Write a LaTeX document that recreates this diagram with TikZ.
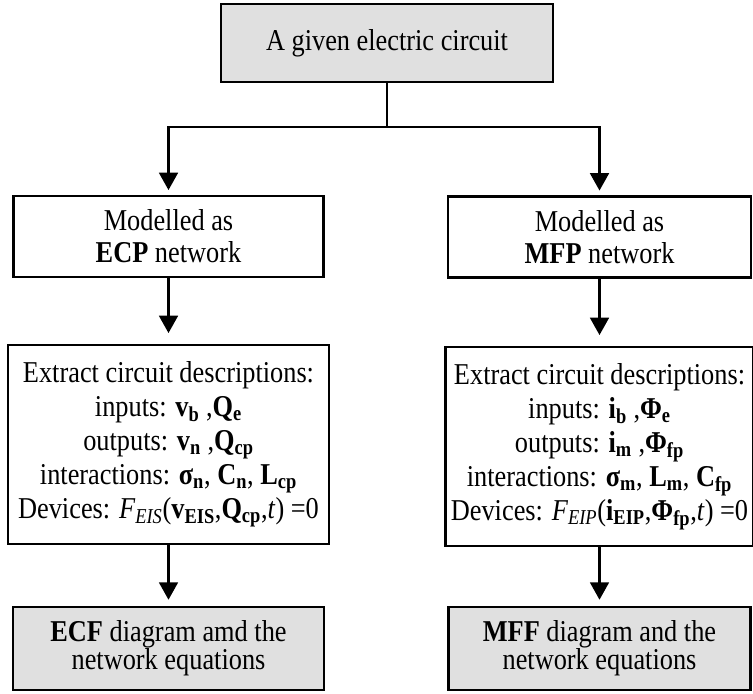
\documentclass[tikz,border=0pt]{standalone}
\usepackage{fontspec}
\setmainfont[FakeStretch=0.87]{Liberation Serif}
\usetikzlibrary{arrows.meta, positioning}
\newcommand{\bsym}[2]{\textbf{#1}\textsubscript{\textbf{#2}}}
\newcommand{\dev}[1]{\textit{F}\textsubscript{\textit{#1}}}

\begin{document}
\begin{tikzpicture}[x=0.75pt, y=-0.75pt,
    >={Triangle[length=13pt, width=14pt]},
    line width=1.9pt,
    font=\fontsize{22.7}{25.5}\selectfont]
  \tikzset{
    flowbox/.style={draw, line width=1.9pt, align=center, inner sep=0pt},
    greybox/.style={flowbox, fill=black!12}
  }
  \useasboundingbox (0,0) rectangle (753,693);

  % top
  \node[greybox, minimum width=249pt, minimum height=58.5pt] (circuit) at (387,43) {A given electric circuit};

  % modelling
  \node[flowbox, minimum width=232.5pt, minimum height=60.75pt,
        font=\fontsize{22.7}{24}\selectfont] (ecp) at (168.5,236.5) {Modelled as\\\textbf{ECP} network};
  \node[flowbox, minimum width=227pt, minimum height=60.75pt,
        font=\fontsize{22.7}{24}\selectfont] (mfp) at (599.5,237) {Modelled as\\\textbf{MFP} network};

  % descriptions
  \node[flowbox, minimum width=240.75pt, minimum height=149.25pt] (ecpdesc) at (168.5,444.5)
    {Extract circuit descriptions:\\
     inputs: \bsym{v}{b} ,\bsym{Q}{e}\\
     outputs: \bsym{v}{n} ,\bsym{Q}{cp}\\
     interactions: \bsym{σ}{n}, \bsym{C}{n}, \bsym{L}{cp}\\
     Devices: \dev{EIS}(\bsym{v}{EIS},\bsym{Q}{cp},\textit{t}) =0};
  \node[flowbox, minimum width=231pt, minimum height=149.25pt] (mfpdesc) at (599.5,446.5)
    {Extract circuit descriptions:\\
     inputs: \bsym{i}{b} ,\bsym{Φ}{e}\\
     outputs: \bsym{i}{m} ,\bsym{Φ}{fp}\\
     interactions: \bsym{σ}{m}, \bsym{L}{m}, \bsym{C}{fp}\\
     Devices: \dev{EIP}(\bsym{i}{EIP},\bsym{Φ}{fp},\textit{t}) =0};

  % results
  \node[greybox, minimum width=233.25pt, minimum height=62.25pt,
        font=\fontsize{22.7}{21}\selectfont] (ecf) at (168.5,648.5) {\textbf{ECF} diagram amd the\\network equations};
  \node[greybox, minimum width=226.5pt, minimum height=62.25pt,
        font=\fontsize{22.7}{21}\selectfont] (mff) at (599.5,648.5) {\textbf{MFF} diagram and the\\network equations};

  \coordinate (split) at (387,127);
  \draw (circuit) -- (split);
  \draw[->, shorten >=3.5pt] (split) -| (ecp.north);
  \draw[->, shorten >=3.5pt] (split) -| (mfp.north);
  \draw[->, shorten >=8pt] (ecp) -- (ecpdesc);
  \draw[->, shorten >=8pt] (mfp) -- (mfpdesc);
  \draw[->, shorten >=4.5pt] (ecpdesc) -- (ecf);
  \draw[->, shorten >=4.5pt] (mfpdesc) -- (mff);
\end{tikzpicture}
\end{document}
